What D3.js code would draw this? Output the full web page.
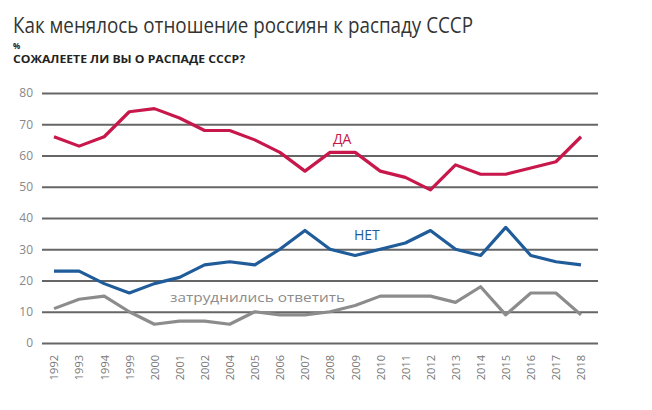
<!DOCTYPE html>
<html><head><meta charset="utf-8">
<script src="https://cdn.jsdelivr.net/npm/d3@7"></script>
<style>body{margin:0;background:#fff}svg{display:block}</style>
</head><body>
<svg id="c" width="652" height="410"></svg>
<script>
const years = ["1992","1993","1994","1999","2000","2001","2002","2004","2005","2006","2007","2008","2009","2010","2011","2012","2013","2014","2015","2016","2017","2018"];
const yes   = [66,63,66,74,75,72,68,68,65,61,55,61,61,55,53,49,57,54,54,56,58,66];
const no    = [23,23,19,16,19,21,25,26,25,30,36,30,28,30,32,36,30,28,37,28,26,25];
const hard  = [11,14,15,10,6,7,7,6,10,9,9,10,12,15,15,15,13,18,9,16,16,9];
const yTicks = [0,10,20,30,40,50,60,70,80];

const svg = d3.select("#c");
const font = "'Open Sans', 'Noto Sans', sans-serif";
const x = d3.scalePoint().domain(years).range([54, 581]);
const y = d3.scaleLinear().domain([0, 80]).range([343, 93]);

// title
svg.append("text").attr("x", 13).attr("y", 33).attr("font-family", font)
  .attr("font-size", 22).attr("fill", "#333").attr("textLength", 460).attr("lengthAdjust", "spacingAndGlyphs")
  .text("Как менялось отношение россиян к распаду СССР");
svg.append("text").attr("x", 13).attr("y", 48.5).attr("font-family", font).attr("font-weight", "bold")
  .attr("font-size", 8).attr("fill", "#222").text("%");
svg.append("text").attr("x", 13).attr("y", 62.5).attr("font-family", font).attr("font-weight", "bold")
  .attr("font-size", 10.5).attr("fill", "#222").attr("textLength", 232).attr("lengthAdjust", "spacingAndGlyphs")
  .text("СОЖАЛЕЕТЕ ЛИ ВЫ О РАСПАДЕ СССР?");

// grid + y labels
const yAxis = d3.axisLeft(y).tickValues(yTicks).tickSize(-(598 - 42)).tickPadding(9);
const gy = svg.append("g").attr("transform", "translate(42,0)").call(yAxis);
gy.select(".domain").remove();
gy.selectAll(".tick line").attr("stroke", "#666").attr("stroke-width", 2);
gy.selectAll(".tick text").attr("font-family", font).attr("font-size", 12).attr("fill", "#888");

// x labels
const xAxis = d3.axisBottom(x).tickSize(0).tickPadding(0);
const gx = svg.append("g").attr("transform", "translate(0,353)").call(xAxis);
gx.select(".domain").remove();
gx.selectAll(".tick text").attr("font-family", font).attr("font-size", 11).attr("fill", "#777")
  .attr("text-anchor", "end").attr("dy", "0.35em").attr("transform", "rotate(-90)").attr("x", -2).attr("y", 0);

// lines
const line = d3.line().x((d, i) => x(years[i])).y(d => y(d));
const series = [
  {vals: hard, color: "#8c8c8c"},
  {vals: no, color: "#1f5c99"},
  {vals: yes, color: "#c8174a"}
];
series.forEach(s => {
  svg.append("path").datum(s.vals).attr("d", line).attr("fill", "none")
    .attr("stroke", s.color).attr("stroke-width", 3.2).attr("stroke-linejoin", "round");
});

// labels
svg.append("text").attr("x", 333).attr("y", 144).attr("font-family", font).attr("font-size", 14)
  .attr("fill", "#c8174a").text("ДА");
svg.append("text").attr("x", 354).attr("y", 240).attr("font-family", font).attr("font-size", 14)
  .attr("fill", "#1f5c99").text("НЕТ");
svg.append("text").attr("x", 170).attr("y", 302).attr("font-family", font).attr("font-size", 13)
  .attr("fill", "#8c8c8c").attr("textLength", 175).attr("lengthAdjust", "spacingAndGlyphs").text("затруднились ответить");
</script>
</body></html>
